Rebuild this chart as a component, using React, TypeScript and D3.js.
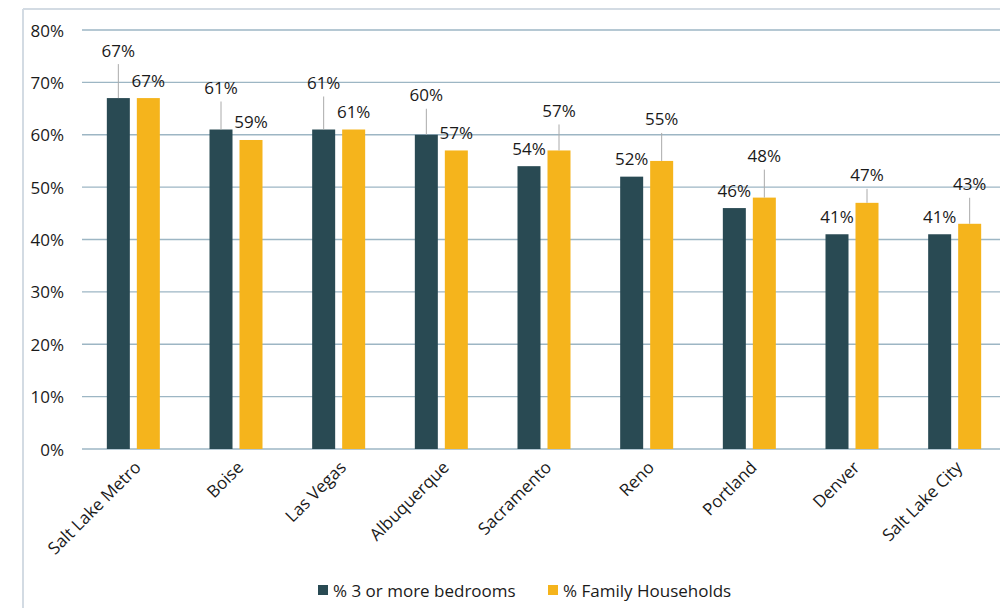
import React from "react";
import * as d3 from "d3";

const categories = ["Salt Lake Metro", "Boise", "Las Vegas", "Albuquerque", "Sacramento", "Reno", "Portland", "Denver", "Salt Lake City"];
const bedrooms = [67, 61, 61, 60, 54, 52, 46, 41, 41];
const family = [67, 59, 61, 57, 57, 55, 48, 47, 43];
// label lift above bar top (px) – larger ones use a leader line
const bedroomsLift = [48, 42, 47, 40, 18, 18, 18, 18, 18];
const familyLift = [18, 18, 18, 18, 40, 42, 42, 28, 40];
const yTicks = [0, 10, 20, 30, 40, 50, 60, 70, 80];
const seriesNames = ["% 3 or more bedrooms", "% Family Households"];
const colors = ["#294a53", "#f5b41c"];

export default function App() {
  const W = 1000, H = 608;
  const left = 82, right = 1006, top = 30, bottom = 449;
  const x = d3.scaleBand<string>().domain(categories).range([left, right]);
  const y = d3.scaleLinear().domain([0, 80]).range([bottom, top]);
  const barW = 23, gap = 7;
  const font = "'Open Sans', sans-serif";
  const series = [bedrooms, family];
  const lifts = [bedroomsLift, familyLift];
  const fs = 17;

  return (
    <svg width={W} height={H} style={{ position: "absolute", left: 0, top: 0, background: "#fff" }} fontFamily={font}>
      <rect x={0} y={0} width={W} height={H} fill="#fff" />
      <line x1={23} y1={9} x2={1000} y2={9} stroke="#d3dbe3" strokeWidth={2} />
      <line x1={23} y1={9} x2={23} y2={608} stroke="#d3dbe3" strokeWidth={2} />
      {yTicks.map((t) => (
        <g key={t}>
          <line x1={left} x2={1000} y1={y(t)} y2={y(t)} stroke="#9db6c4" strokeWidth={1.3} />
          <text x={64} y={y(t)} textAnchor="end" dominantBaseline="central" fontSize={fs} fill="#1a1a1a">{t}%</text>
        </g>
      ))}
      {categories.map((c, i) => {
        const cx = (x(c) as number) + x.bandwidth() / 2;
        return (
          <g key={c}>
            {series.map((s, k) => {
              const bx = k === 0 ? cx - gap / 2 - barW : cx + gap / 2;
              const by = y(s[i]);
              const lift = lifts[k][i];
              const ty = by - lift;
              const lx = bx + barW / 2;
              return (
                <g key={k}>
                  <rect x={bx} y={by} width={barW} height={bottom - by} fill={colors[k]} />
                  {lift > 25 && (
                    <line x1={lx} x2={lx} y1={ty + 14} y2={by} stroke="#aaaaaa" strokeWidth={1} />
                  )}
                  <text x={lx} y={ty} textAnchor="middle" dominantBaseline="central" fontSize={fs} fill="#1a1a1a">{s[i]}%</text>
                </g>
              );
            })}
            <text
              transform={`translate(${cx + 4},${bottom + 15}) rotate(-45)`}
              textAnchor="end"
              dominantBaseline="central"
              fontSize={fs}
              fill="#1a1a1a"
            >{c}</text>
          </g>
        );
      })}
      {seriesNames.map((n, k) => {
        const lx = k === 0 ? 318 : 548;
        return (
          <g key={n}>
            <rect x={lx} y={585} width={10} height={10} fill={colors[k]} />
            <text x={lx + 15} y={590.5} dominantBaseline="central" fontSize={fs} fill="#1a1a1a">{n}</text>
          </g>
        );
      })}
    </svg>
  );
}
